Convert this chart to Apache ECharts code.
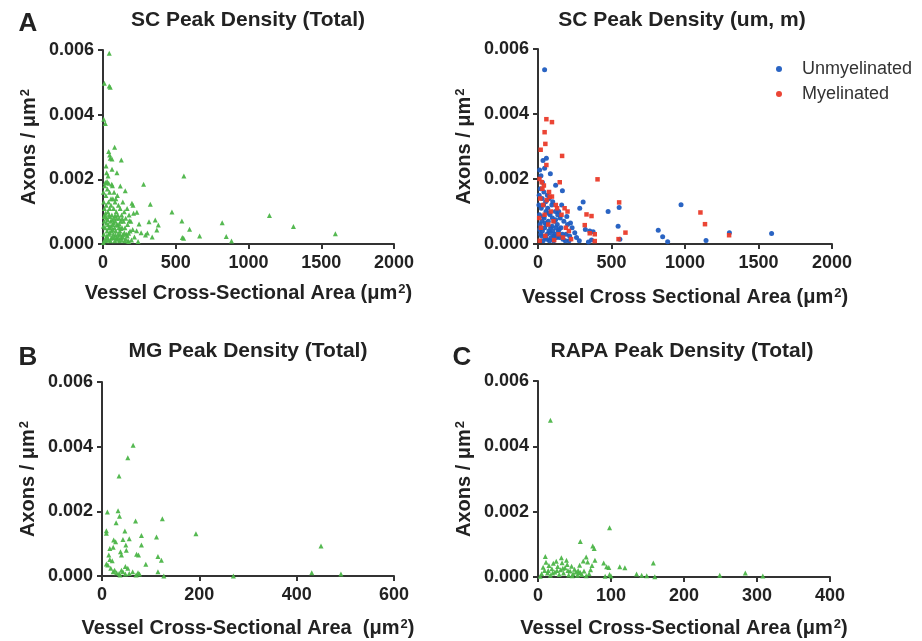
<!DOCTYPE html>
<html><head><meta charset="utf-8">
<script src="https://cdn.jsdelivr.net/npm/echarts@6/dist/echarts.min.js"></script>
<style>html,body{margin:0;padding:0;background:#fff}#c{width:922px;height:641px}</style>
</head><body><div id="c"></div>
<script>
// ---------- data (x = vessel area µm², y = axons / µm²) ----------
const xTicksSC = [0, 500, 1000, 1500, 2000];
const xTicksMG = [0, 200, 400, 600];
const xTicksRAPA = [0, 100, 200, 300, 400];
const yTicks = [0, 0.002, 0.004, 0.006];

const scTotal = [
[43,0.0059],[9,0.00497],[43,0.00489],[50,0.00485],[5,0.00386],[16,0.00373],
[80,0.00299],[39,0.00286],[46,0.00275],[50,0.00265],[62,0.00263],[126,0.0026],[21,0.00241],[62,0.00231],[96,0.0022],
[16,0.0019],[28,0.00193],[39,0.00188],[60,0.00185],[119,0.00179],[153,0.00165],[279,0.00185],[556,0.0021],
[325,0.00123],[474,0.00099],[542,0.00071],[316,0.00069],[359,0.00074],[380,0.00059],[370,0.00043],[595,0.00046],
[664,0.00025],[819,0.00066],[847,0.00023],[883,0.00009],[1144,0.00088],[1309,0.00054],[1597,0.00032],[554,0.00018],[545,0.0002],
[210,0.00095],[199,0.00126],[206,0.0012],[233,0.00098],[181,0.00072],[248,0.00062],[262,0.00035],[292,0.00028],[231,0.00041],
[216,0.00022],[196,0.00012],[241,0.00008],[176,0.00033],[305,0.00034],[338,0.00022],
[5,0.0013],[10,0.0011],[12,0.0009],[8,0.0007],[15,0.0005],[6,0.0003],[18,0.0001],[22,0.0012],[25,0.0008],[28,0.0004],
[31,0.0002],[33,0.001],[36,0.0006],[38,0.0013],[41,0.0003],[42,0.0009],[45,0.0011],[48,0.0005],[51,0.0001],[53,0.0007],
[55,0.0012],[58,0.0004],[61,0.0009],[63,0.0002],[66,0.0006],[68,0.0014],[71,0.0003],[73,0.0011],[75,0.0008],[79,0.0005],
[81,0.0001],[83,0.0013],[85,0.0007],[88,0.0004],[91,0.001],[93,0.0002],[96,0.0006],[99,0.0015],[101,0.0009],[104,0.0003],
[106,0.0012],[109,0.0005],[111,0.0008],[113,0.0001],[116,0.0004],[118,0.0011],[121,0.0007],[125,0.0002],[128,0.0009],[131,0.0005],
[136,0.0013],[138,0.0003],[141,0.0007],[146,0.001],[148,0.0001],[151,0.0005],[156,0.0008],[161,0.0003],[166,0.0011],[169,0.0006],
[172,0.0001],[179,0.0009],[186,0.0004],[191,0.0007],[3,0.0016],[12,0.0018],[20,0.0015],[30,0.0017],[45,0.0016],[55,0.0014],
[65,0.0018],[76,0.0016],[88,0.0014],[25,0.0022],[35,0.0021],[2,0.00005],[14,0.00015],[26,0.00025],[36,0.00012],[46,0.00035],
[56,0.00018],[66,0.00045],[77,0.0002],[86,0.00028],[97,0.00015],[107,0.0002],[117,0.0003],[127,0.00012],[137,0.00022],[147,0.00035],
[157,0.00015],[167,0.00025],[177,0.00008],[3,0.00055],[9,0.00085],[17,0.00095],[24,0.00065],[32,0.00075],[40,0.0005],[47,0.00085],
[54,0.00055],[63,0.00075],[73,0.00065],[83,0.00088],[93,0.0008],[102,0.00058],[112,0.00062],[122,0.00048],[132,0.00078],[204,0.00045]
];

const scUnmyelinated = [
[45,0.00536],[57,0.00264],[34,0.00257],[45,0.00233],[84,0.00216],[11,0.00228],[166,0.00164],[120,0.00181],[20,0.0021],[30,0.0019],
[307,0.00129],[284,0.0011],[477,0.001],[552,0.00112],[545,0.00055],[557,0.00015],[973,0.00121],[818,0.00042],[848,0.00022],[882,0.00007],
[1143,0.00011],[1302,0.00035],[1589,0.00032],[322,0.00045],[352,0.0004],[375,0.00038],[364,0.00012],[343,0.00006],[250,0.00035],[232,0.0005],
[221,0.00065],[201,0.0006],[191,0.0003],[262,0.0002],[281,0.0001],[211,0.0001],[161,0.0012],[141,0.001],[151,0.0008],[131,0.0006],
[6,0.0012],[10,0.0009],[14,0.0006],[18,0.0003],[22,0.0011],[26,0.0007],[30,0.0004],[34,0.0001],[38,0.0012],[42,0.0008],
[46,0.0005],[50,0.0002],[54,0.001],[58,0.0006],[62,0.0003],[66,0.0011],[70,0.0007],[74,0.0004],[78,0.0001],[82,0.0009],
[86,0.0005],[90,0.0002],[94,0.0012],[98,0.0008],[102,0.0004],[106,0.0001],[110,0.0007],[114,0.0003],[118,0.001],[122,0.0005],
[126,0.0002],[134,0.0009],[138,0.0004],[146,0.0002],[156,0.0005],[166,0.0003],[176,0.0007],[186,0.0001],[8,0.0015],[16,0.0017],
[28,0.0014],[40,0.0016],[52,0.0013],[64,0.0015],[76,0.0014],[100,0.0013],[12,0.00045],[24,0.00025],[36,0.00085],[48,0.00065],
[60,0.00015],[72,0.00095],[84,0.00035],[96,0.00055],[108,0.00025],[120,0.00075],[144,0.00045],[170,0.00015],[196,0.00085],[215,0.00025]
];

const scMyelinated = [
[57,0.00384],[95,0.00375],[45,0.00344],[50,0.00308],[18,0.0029],[164,0.00271],[405,0.00199],[148,0.0019],[57,0.00243],[552,0.00128],
[595,0.00035],[548,0.00015],[1105,0.00097],[1136,0.00061],[1300,0.00027],[330,0.00091],[364,0.00086],[318,0.00058],[352,0.00033],[386,0.0003],
[386,0.00009],[95,0.00146],[75,0.0016],[40,0.0018],[25,0.0019],[10,0.002],[30,0.0017],[80,0.00145],[121,0.0012],[181,0.0011],
[201,0.001],[160,0.0009],[190,0.0005],[210,0.0004],[15,0.0014],[35,0.0012],[60,0.00135],[8,0.0008],[20,0.0005],[45,0.0009],
[70,0.0006],[88,0.001],[105,0.0007],[130,0.0011],[140,0.0003],[170,0.0002],[225,0.00015],[12,0.0001],[50,0.00025],[110,0.00012]
];

const mgTotal = [
[64,0.00404],[53,0.00366],[35,0.00309],[11,0.00198],[33,0.00202],[36,0.00185],[29,0.00165],[69,0.0017],[124,0.00177],[193,0.00131],
[112,0.00121],[81,0.00125],[47,0.00139],[56,0.00115],[43,0.00113],[24,0.00111],[28,0.00106],[9,0.0014],[9,0.00132],[81,0.00096],
[49,0.00096],[50,0.0008],[16,0.00085],[23,0.00089],[38,0.00075],[40,0.00065],[71,0.00067],[75,0.00065],[115,0.0006],[122,0.00049],
[90,0.00036],[14,0.00065],[16,0.00051],[21,0.00047],[9,0.00037],[12,0.00034],[18,0.00024],[26,0.00018],[23,0.00013],[30,0.0001],
[40,0.00018],[43,0.00013],[48,0.00029],[53,0.00024],[56,0.00008],[48,0.00006],[63,0.00013],[74,0.0001],[77,0.00006],[70,0.00003],
[35,0.00008],[37,0.00003],[115,0.00013],[127,0.0],[270,0.0],[431,0.0001],[450,0.00093],[491,0.00006]
];

const rapaTotal = [
[17,0.0048],[98,0.00151],[58,0.00109],[75,0.00095],[77,0.00087],[66,0.00061],[62,0.00049],[68,0.00046],[78,0.00051],[90,0.00043],
[94,0.00031],[97,0.00029],[112,0.00031],[119,0.00028],[158,0.00043],[135,0.00009],[142,0.00005],[149,0.00004],[160,0.00001],[249,0.00005],
[284,0.00012],[308,0.00003],[10,0.00063],[32,0.00059],[39,0.00051],[57,0.00036],[55,0.0002],[98,0.00008],[100,0.00003],[92,0.00002],
[5,0.0001],[7,0.0003],[9,0.0002],[11,0.00045],[13,0.00012],[15,0.00035],[17,0.00005],[19,0.00025],[21,0.00042],[23,0.00015],
[25,0.00048],[27,0.00032],[29,0.00008],[31,0.00022],[33,0.00044],[35,0.00012],[37,0.00028],[40,0.00038],[42,0.00006],[44,0.00018],
[46,0.00033],[48,0.0001],[50,0.00024],[52,0.00015],[54,0.00005],[56,0.00012],[60,0.00008],[63,0.00018],[66,0.00004],[70,0.0001],
[72,0.00022],[74,0.00035],[3,0.00002],[14,0.0002],[20,0.00012],[26,0.0002],[34,0.00027],[41,0.0002],[47,0.00004],[58,0.00014]
];

// ---------- chart ----------
const FONT = 'Liberation Sans, Arial, Helvetica, sans-serif';
const GREEN = '#4cb548', BLUE = '#1f5cc0', RED = '#ea3b2a';

const grids = [
  {left:103, top:50, width:291, height:194},
  {left:538, top:49, width:294, height:195},
  {left:102, top:382, width:292, height:194},
  {left:538, top:381, width:292, height:196}
];
const xNames = [
  'Vessel Cross-Sectional Area (μm{sup|2})',
  'Vessel Cross Sectional Area (μm{sup|2})',
  'Vessel Cross-Sectional Area  (μm{sup|2})',
  'Vessel Cross-Sectional Area (μm{sup|2})'
];
const xTickSets = [xTicksSC, xTicksSC, xTicksMG, xTicksRAPA];
const xGaps = [39, 43, 42, 41];

const nameStyle = {
  fontFamily: FONT, fontSize: 20, fontWeight: 'bold', color: '#222',
  rich: {
    sup: {fontFamily: FONT, fontSize: 13, fontWeight: 'bold', color: '#222', verticalAlign: 'top', lineHeight: 13, padding: [0, 0, 8, 1]}
  }
};
const axLine = {show: true, lineStyle: {color: '#333', width: 2}};
const axTick = {show: true, length: 5, lineStyle: {color: '#333', width: 2}};
const labStyle = {fontFamily: FONT, fontSize: 18, fontWeight: 'bold', color: '#222'};

const xAxis = xTickSets.map((t, i) => ({
  gridIndex: i, type: 'value', min: t[0], max: t[t.length - 1], interval: t[1] - t[0],
  axisLine: axLine, axisTick: axTick, splitLine: {show: false},
  axisLabel: Object.assign({margin: 10, formatter: v => String(v)}, labStyle),
  name: xNames[i], nameLocation: 'middle', nameGap: xGaps[i], nameTextStyle: nameStyle
}));
const yAxis = grids.map((g, i) => ({
  gridIndex: i, type: 'value', min: yTicks[0], max: yTicks[yTicks.length - 1], interval: yTicks[1] - yTicks[0],
  axisLine: axLine, axisTick: axTick, splitLine: {show: false},
  axisLabel: Object.assign({margin: 9, formatter: v => v.toFixed(3)}, labStyle),
  name: 'Axons / μm{sup|2}', nameLocation: 'middle', nameGap: 64, nameRotate: 90, nameTextStyle: nameStyle
}));

function sc(name, data, idx, color, symbol, size) {
  return {name, type: 'scatter', xAxisIndex: idx, yAxisIndex: idx, data, symbol, symbolSize: size,
    itemStyle: {color, opacity: 0.95}, silent: true, animation: false};
}

const txt = (t, x, y, size) => ({type: 'text', x, y, silent: true,
  style: {text: t, textAlign: 'center', textVerticalAlign: 'middle', align: 'center', verticalAlign: 'middle',
    font: 'bold ' + size + 'px ' + FONT, fill: '#222'}});

const option = {
  backgroundColor: '#fff',
  animation: false,
  grid: grids,
  xAxis, yAxis,
  legend: {
    data: [{name: 'Unmyelinated', icon: 'circle'}, {name: 'Myelinated', icon: 'circle'}],
    orient: 'vertical', left: 771, top: 55,
    itemWidth: 36, itemHeight: 6, itemGap: 7,
    textStyle: {fontFamily: FONT, fontSize: 18, color: '#333'}
  },
  graphic: [
    txt('A', 28, 24, 26), txt('B', 28, 358, 26), txt('C', 462, 358, 26),
    txt('SC Peak Density (Total)', 248, 20, 21),
    txt('SC Peak Density (um, m)', 682, 20, 21),
    txt('MG Peak Density (Total)', 248, 351, 21),
    txt('RAPA Peak Density (Total)', 682, 351, 21)
  ],
  series: [
    sc('SC total', scTotal, 0, GREEN, 'triangle', 5),
    sc('Unmyelinated', scUnmyelinated, 1, BLUE, 'circle', 5),
    sc('Myelinated', scMyelinated, 1, RED, 'rect', 4.5),
    sc('MG total', mgTotal, 2, GREEN, 'triangle', 5),
    sc('RAPA total', rapaTotal, 3, GREEN, 'triangle', 5)
  ]
};
const chart = echarts.init(document.getElementById('c'), null, {renderer: 'canvas'});
chart.setOption(option);
</script></body></html>
